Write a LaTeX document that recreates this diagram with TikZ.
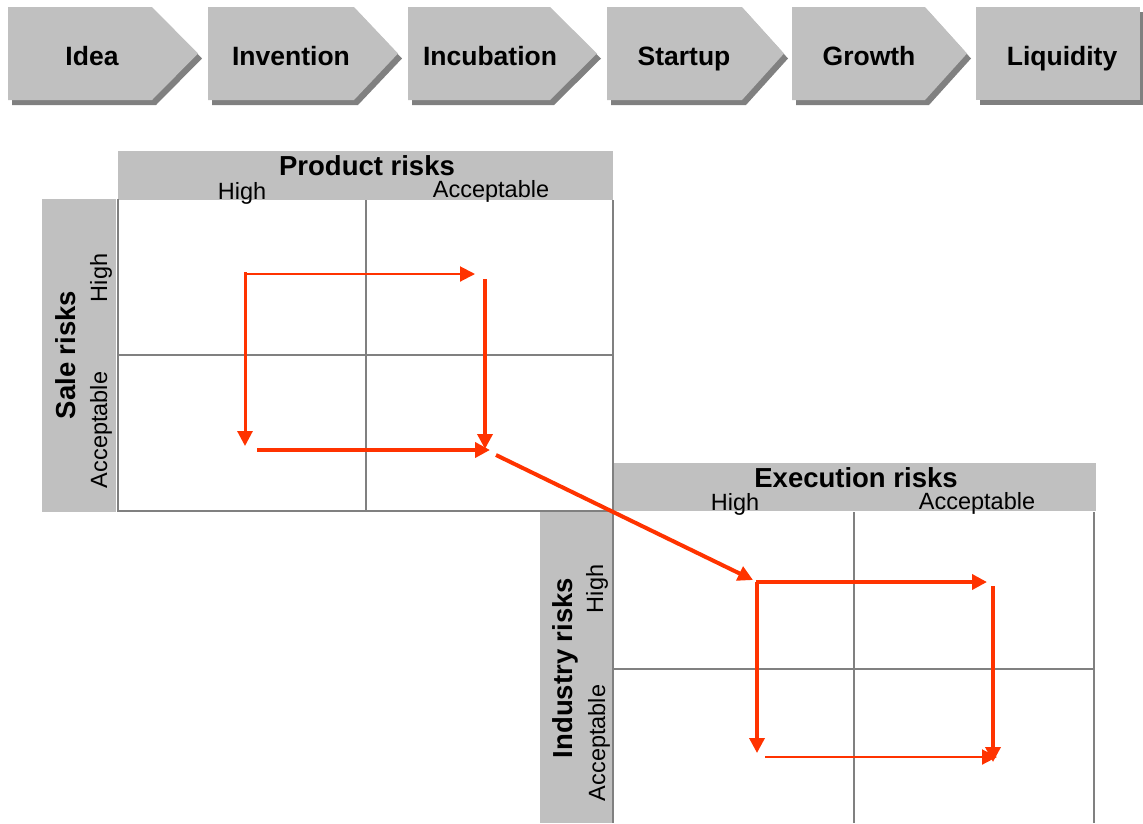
\documentclass[tikz,border=0pt]{standalone}
\usepackage{fontspec}
\setmainfont{Liberation Sans}
\usetikzlibrary{arrows.meta}
\definecolor{band}{HTML}{C0C0C0}
\definecolor{shade}{HTML}{808080}
\definecolor{gridc}{HTML}{808080}
\definecolor{redarr}{HTML}{FF3300}
\begin{document}
\begin{tikzpicture}[x=1pt,y=-1pt,
  chev/.style={fill=band},
  chevshadow/.style={fill=shade},
  stage/.style={font=\fontsize{26.5}{26.5}\selectfont\bfseries, inner sep=0, anchor=base},
  head/.style={font=\fontsize{27.5}{27.5}\selectfont\bfseries, inner sep=0, anchor=base},
  lab/.style={font=\fontsize{23.5}{23.5}\selectfont, inner sep=0, anchor=base},
  gridline/.style={draw=gridc, line width=2pt},
  flow/.style={draw=redarr, -{Triangle[length=15pt,width=15pt]}},
]
\useasboundingbox (0,0) rectangle (1143,823);
% chevrons
\foreach \l/\p/\t in {8/152/198, 208/354/398, 408/550/597, 607/742/784, 792/925/967}{
  \fill[chevshadow] (\l+4,12) -- (\p+4,12) -- (\t+4,58.5) -- (\p+4,105) -- (\l+4,105) -- cycle;
  \fill[chev] (\l,7) -- (\p,7) -- (\t,53.5) -- (\p,100) -- (\l,100) -- cycle;
}
\fill[chevshadow] (980,12) rectangle (1144,105);
\fill[chev] (976,7) rectangle (1140,100);
\node[stage] (s1) at (92,65) {Idea};
\node[stage] (s2) at (291,65) {Invention};
\node[stage] (s3) at (490,65) {Incubation};
\node[stage] (s4) at (684,65) {Startup};
\node[stage] (s5) at (869,65) {Growth};
\node[stage] (s6) at (1062,65) {Liquidity};
% bands
\fill[band] (118,151) rectangle (613,200);
\fill[band] (42,199) rectangle (116,512);
\fill[band] (614,463) rectangle (1096,511);
\fill[band] (540,512) rectangle (612,823);
% grid lines
\draw[gridline] (118,199) -- (118,511) -- (613,511);
\draw[gridline] (613,200) -- (613,823);
\draw[gridline] (366,200) -- (366,511);
\draw[gridline] (118,355) -- (613,355);
\draw[gridline] (614,669) -- (1094,669);
\draw[gridline] (854,512) -- (854,823);
\draw[gridline] (1094,512) -- (1094,823);
% labels matrix 1
\node[head] (pr) at (367,175) {Product risks};
\node[lab] (ph) at (242,199) {High};
\node[lab] (pa) at (491,197) {Acceptable};
\node[head, rotate=90] (sr) at (75,355) {Sale risks};
\node[lab, rotate=90] (sh) at (107,278) {High};
\node[lab, rotate=90] (sa) at (107,430) {Acceptable};
% labels matrix 2
\node[head] (er) at (856,487) {Execution risks};
\node[lab] (eh) at (735,510) {High};
\node[lab] (ea) at (977,509) {Acceptable};
\node[head, rotate=90] (ir) at (572,668) {Industry risks};
\node[lab, rotate=90] (ih) at (603,589) {High};
\node[lab, rotate=90] (ia) at (605,743) {Acceptable};
% arrow coordinates
\coordinate (a1s) at (245,274); \coordinate (a1e) at (475,274);
\coordinate (a2s) at (245,272); \coordinate (a2e) at (245,446);
\coordinate (a3s) at (485,279); \coordinate (a3e) at (485,449);
\coordinate (a4s) at (257,450); \coordinate (a4e) at (490,450);
\coordinate (a5s) at (496,455); \coordinate (a5e) at (753,580);
\coordinate (b1s) at (756,582); \coordinate (b1e) at (987,582);
\coordinate (b2s) at (757,582); \coordinate (b2e) at (757,753);
\coordinate (b3s) at (993,586); \coordinate (b3e) at (993,762);
\coordinate (b4s) at (765,757); \coordinate (b4e) at (997,757);
\draw[flow, line width=2pt] (a1s) -- (a1e);
\draw[flow, line width=3pt] (a2s) -- (a2e);
\draw[flow, line width=3.5pt] (a3s) -- (a3e);
\draw[flow, line width=4pt] (a4s) -- (a4e);
\draw[flow, line width=4pt] (a5s) -- (a5e);
\draw[flow, line width=4pt] (b1s) -- (b1e);
\draw[flow, line width=3.5pt] (b2s) -- (b2e);
\draw[flow, line width=3.5pt] (b3s) -- (b3e);
\draw[flow, line width=2pt] (b4s) -- (b4e);
\end{tikzpicture}
\end{document}
